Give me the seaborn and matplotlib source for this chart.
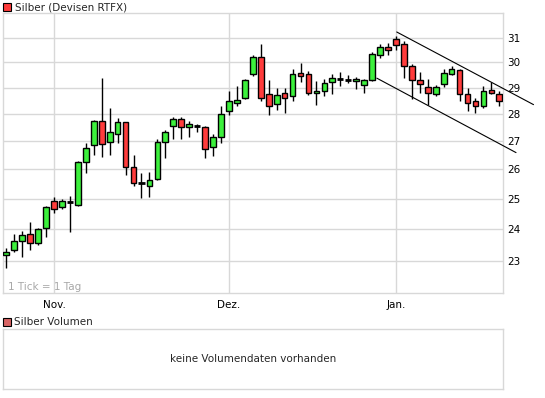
import numpy as np
import matplotlib
matplotlib.use("Agg")
import matplotlib.pyplot as plt
from matplotlib.patches import Rectangle
from matplotlib.ticker import FixedLocator, NullLocator, FixedFormatter
import seaborn as sns

# --- DATA (daily candles) ---
opens = [23.18, 23.34, 23.62, 23.84, 23.57, 24.03, 24.93, 24.73, 24.89, 24.80,
         26.25, 26.86, 27.75, 26.96, 27.25, 27.71, 26.07, 25.54, 25.42, 25.67,
         26.97, 27.56, 27.82, 27.52, 27.57, 27.50, 26.79, 27.14, 28.12, 28.43,
         28.62, 29.53, 30.22, 28.74, 28.39, 28.81, 28.66, 29.57, 29.53, 28.81,
         28.89, 29.21, 29.34, 29.31, 29.25, 29.09, 29.30, 30.31, 30.62, 30.94,
         30.74, 29.84, 29.29, 29.03, 28.76, 29.13, 29.55, 29.71, 28.74, 28.48,
         28.30, 28.90, 28.75]
highs = [23.40, 23.85, 23.94, 24.22, 24.03, 24.75, 25.07, 24.98, 25.09, 26.29,
         26.94, 27.76, 29.37, 28.21, 27.86, 27.71, 26.50, 25.87, 25.90, 27.08,
         27.40, 27.90, 27.90, 27.74, 27.62, 27.57, 27.26, 28.31, 28.86, 29.06,
         29.33, 30.30, 30.74, 29.30, 29.00, 29.00, 29.73, 29.98, 29.65, 29.25,
         29.33, 29.53, 29.61, 29.49, 29.41, 29.35, 30.40, 30.75, 30.78, 31.07,
         30.88, 29.94, 29.60, 29.35, 29.12, 29.73, 29.87, 29.73, 28.99, 28.59,
         29.07, 29.22, 28.86]
lows = [22.80, 23.27, 23.14, 23.36, 23.50, 23.75, 24.53, 24.67, 23.92, 24.75,
        25.88, 26.52, 26.45, 26.52, 26.95, 25.80, 25.42, 25.02, 25.05, 25.65,
        26.39, 27.08, 27.07, 27.14, 27.34, 26.41, 26.48, 26.93, 27.96, 28.31,
        28.58, 29.44, 28.49, 27.96, 28.15, 28.04, 28.47, 29.21, 28.70, 28.35,
        28.66, 28.77, 29.05, 29.17, 28.93, 28.81, 29.27, 30.16, 30.31, 30.51,
        29.37, 28.58, 28.80, 28.32, 28.67, 29.03, 29.50, 28.48, 28.10, 28.04,
        28.22, 28.75, 28.30]
closes = [23.27, 23.62, 23.81, 23.57, 24.00, 24.73, 24.67, 24.93, 24.89, 26.25,
          26.76, 27.73, 26.89, 27.32, 27.71, 26.07, 25.53, 25.54, 25.63, 26.96,
          27.34, 27.82, 27.50, 27.61, 27.57, 26.71, 27.14, 28.00, 28.47, 28.54,
          29.29, 30.22, 28.62, 28.31, 28.70, 28.62, 29.53, 29.46, 28.81, 28.89,
          29.17, 29.37, 29.34, 29.31, 29.33, 29.29, 30.35, 30.62, 30.50, 30.70,
          29.84, 29.29, 29.14, 28.78, 29.03, 29.57, 29.73, 28.74, 28.43, 28.30,
          28.86, 28.81, 28.48]

month_days = [6, 28, 49]
month_labels = ["Nov.", "Dez.", "Jan."]
price_ticks = [23, 24, 25, 26, 27, 28, 29, 30, 31]

# trend channel (day index, price)
upper_days = [49.1, 66.3]
upper_prices = [31.24, 28.35]
lower_days = [46.6, 64.1]
lower_prices = [29.37, 26.59]

GREEN = "#3cf03c"
RED = "#ff3c3c"
GRID = "#d8d8d8"


def main():
    sns.set_style("white")
    plt.rcParams['font.family'] = ['DejaVu Sans']
    plt.rcParams['font.size'] = 7.5

    fig = plt.figure(figsize=(5.45, 3.98), dpi=100)
    W, H = 545.0, 398.0

    # --- main price panel ---
    ax = fig.add_axes([2.7 / W, 1 - 292.7 / H, 500.6 / W, 279.4 / H])
    ax.set_yscale('log')

    days = np.arange(len(opens))
    o = np.array(opens)
    c = np.array(closes)

    ax.vlines(days, lows, highs, color='black', lw=1.0, zorder=2)

    up = c > o
    down = c < o
    flat = c == o
    ax.bar(days[up], (c - o)[up], bottom=o[up], width=0.72,
           color=GREEN, edgecolor='black', linewidth=1.0, zorder=3)
    ax.bar(days[down], (o - c)[down], bottom=c[down], width=0.72,
           color=RED, edgecolor='black', linewidth=1.0, zorder=3)
    ax.hlines(o[flat], days[flat] - 0.4, days[flat] + 0.4,
              color='black', lw=2.0, zorder=3)

    sns.lineplot(x=upper_days, y=upper_prices, ax=ax, color='black',
                 lw=0.8, clip_on=False, zorder=4)
    sns.lineplot(x=lower_days, y=lower_prices, ax=ax, color='black',
                 lw=0.8, clip_on=False, zorder=4)

    ax.set_xlim(-0.45, 62.5)
    ax.set_ylim(22.05, 32.03)

    ax.yaxis.set_major_locator(FixedLocator(price_ticks))
    ax.yaxis.set_major_formatter(FixedFormatter([str(t) for t in price_ticks]))
    ax.yaxis.set_minor_locator(NullLocator())
    ax.yaxis.tick_right()
    ax.set_xticks(month_days)
    ax.set_xticklabels(month_labels)
    ax.tick_params(axis='both', length=0, labelsize=7.5, colors='black')
    ax.tick_params(axis='y', pad=3)
    ax.tick_params(axis='x', pad=5)
    ax.set_xlabel("")
    ax.set_ylabel("")

    ax.grid(True, color=GRID, lw=1.0)
    ax.set_axisbelow(True)
    for sp in ax.spines.values():
        sp.set_color(GRID)
        sp.set_linewidth(1.0)

    ax.text(8.3 / W, 1 - 286.7 / H, "1 Tick = 1 Tag", transform=fig.transFigure,
            color="#a8a8a8", fontsize=7.5, va='center', ha='left')

    # legend of the price panel
    fig.add_artist(Rectangle((3 / W, 1 - 11 / H), 8 / W, 8 / H,
                             transform=fig.transFigure, facecolor=RED,
                             edgecolor='black', lw=0.8))
    fig.text(15 / W, 1 - 7 / H, "Silber (Devisen RTFX)", fontsize=7.5,
             va='center', ha='left')

    # --- volume panel ---
    ax2 = fig.add_axes([2.7 / W, 1 - 389.3 / H, 500.6 / W, 60 / H])
    ax2.set_xticks([])
    ax2.set_yticks([])
    for sp in ax2.spines.values():
        sp.set_color(GRID)
        sp.set_linewidth(1.0)
    ax2.text(0.5, 0.5, "keine Volumendaten vorhanden", transform=ax2.transAxes,
             ha='center', va='center', fontsize=7.5)

    fig.add_artist(Rectangle((3 / W, 1 - 325.5 / H), 8 / W, 8 / H,
                             transform=fig.transFigure, facecolor="#d86464",
                             edgecolor='black', lw=0.8))
    fig.text(14 / W, 1 - 321.7 / H, "Silber Volumen", fontsize=7.5,
             va='center', ha='left')

    fig.savefig("out.png", dpi=100)


if __name__ == "__main__":
    main()
